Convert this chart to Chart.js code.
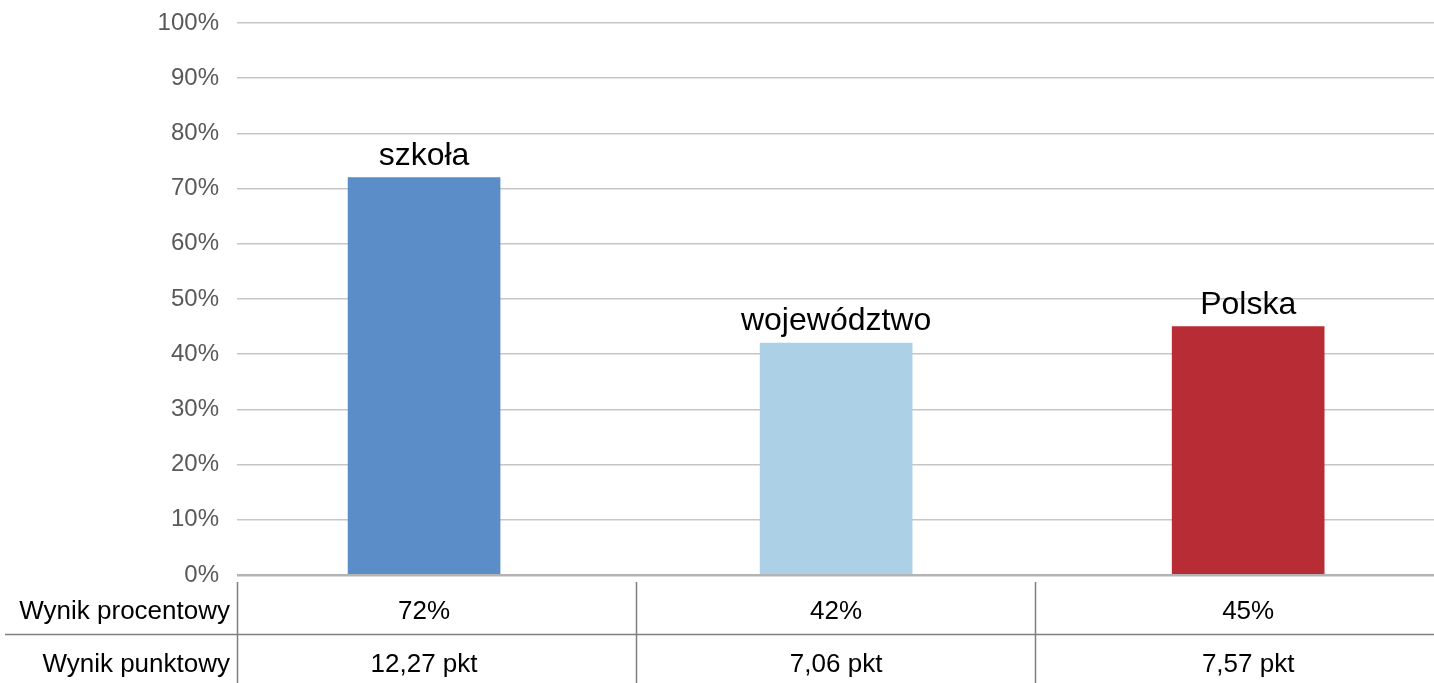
<!DOCTYPE html>
<html>
<head>
<meta charset="utf-8">
<script src="https://cdn.jsdelivr.net/npm/chart.js@4"></script>
<style>
  html, body { margin: 0; padding: 0; background: #fff; overflow: hidden; }
  #wrap { width: 1434px; height: 683px; }
</style>
</head>
<body>
<div id="wrap"><canvas id="myChart" width="1434" height="683"></canvas></div>
<script>
// data
const categories = ['szkoła', 'województwo', 'Polska'];
const percentValues = [72, 42, 45];
const percentLabels = ['72%', '42%', '45%'];
const pointLabels = ['12,27 pkt', '7,06 pkt', '7,57 pkt'];
const rowNames = ['Wynik procentowy', 'Wynik punktowy'];
const barColors = ['#5b8dc8', '#acd1e7', '#b82d35'];
const yTicks = [0, 10, 20, 30, 40, 50, 60, 70, 80, 90, 100];

// x axis range (bars sit at 0, 1, 2)
const xMin = -0.454, xMax = 2.451;

const FONT = "'Liberation Sans', Arial, sans-serif";

// labels above bars
const barLabels = {
    id: 'barLabels',
    afterDatasetsDraw(chart) {
        const ctx = chart.ctx;
        const meta = chart.getDatasetMeta(0);
        ctx.save();
        ctx.font = '32px ' + FONT;
        ctx.fillStyle = '#000';
        ctx.textAlign = 'center';
        ctx.textBaseline = 'alphabetic';
        meta.data.forEach((bar, i) => {
            ctx.fillText(categories[i], bar.x, bar.y - 13);
        });
        ctx.restore();
    }
};

// data table under the chart
const dataTable = {
    id: 'dataTable',
    afterDraw(chart) {
        const ctx = chart.ctx;
        const area = chart.chartArea;
        const xs = chart.scales.x;
        const colW = (area.right - area.left) / categories.length;
        ctx.save();
        ctx.strokeStyle = '#7f7f7f';
        ctx.lineWidth = 1.5;
        // vertical separators
        for (let i = 0; i < categories.length; i++) {
            const x = Math.round(area.left + i * colW) + 0.5;
            ctx.beginPath();
            ctx.moveTo(x, area.bottom + 7);
            ctx.lineTo(x, chart.height);
            ctx.stroke();
        }
        // row separator
        ctx.beginPath();
        ctx.moveTo(5, area.bottom + 59.5);
        ctx.lineTo(chart.width, area.bottom + 59.5);
        ctx.stroke();

        ctx.font = '26px ' + FONT;
        ctx.fillStyle = '#000';
        ctx.textBaseline = 'middle';
        const rowY = [area.bottom + 37, area.bottom + 90];
        ctx.textAlign = 'right';
        ctx.fillText(rowNames[0], area.left - 7, rowY[0]);
        ctx.fillText(rowNames[1], area.left - 7, rowY[1]);
        ctx.textAlign = 'center';
        categories.forEach((c, i) => {
            const x = xs.getPixelForValue(i);
            ctx.fillText(percentLabels[i], x, rowY[0]);
            ctx.fillText(pointLabels[i], x, rowY[1]);
        });
        ctx.restore();
    }
};

const ctx = document.getElementById('myChart').getContext('2d');
const chart = new Chart(ctx, {
    type: 'bar',
    data: {
        datasets: [{
            data: percentValues.map((v, i) => ({ x: i, y: v })),
            backgroundColor: barColors,
            borderWidth: 0,
            barThickness: 152
        }]
    },
    options: {
        responsive: false,
        animation: false,
        devicePixelRatio: 1,
        layout: { padding: { top: 23, bottom: 108, left: 0, right: 0 } },
        plugins: {
            legend: { display: false },
            tooltip: { enabled: false }
        },
        scales: {
            x: {
                type: 'linear',
                min: xMin,
                max: xMax,
                offset: false,
                display: false
            },
            y: {
                min: 0,
                max: 100,
                afterFit(scale) {
                    scale.width = 237;
                    scale.paddingTop = 0;
                    scale.paddingBottom = 0;
                },
                afterBuildTicks(scale) { scale.ticks = yTicks.map(v => ({ value: v })); },
                border: { display: false },
                grid: {
                    drawTicks: false,
                    color: ctx => ctx.tick && ctx.tick.value === 0 ? '#b3b3b3' : '#c6c6c6',
                    lineWidth: ctx => ctx.tick && ctx.tick.value === 0 ? 2.5 : 1.5
                },
                ticks: {
                    padding: 18,
                    color: '#595959',
                    font: { family: FONT, size: 24 },
                    callback: v => v + '%'
                }
            }
        }
    },
    plugins: [barLabels, dataTable]
});
</script>
</body>
</html>
